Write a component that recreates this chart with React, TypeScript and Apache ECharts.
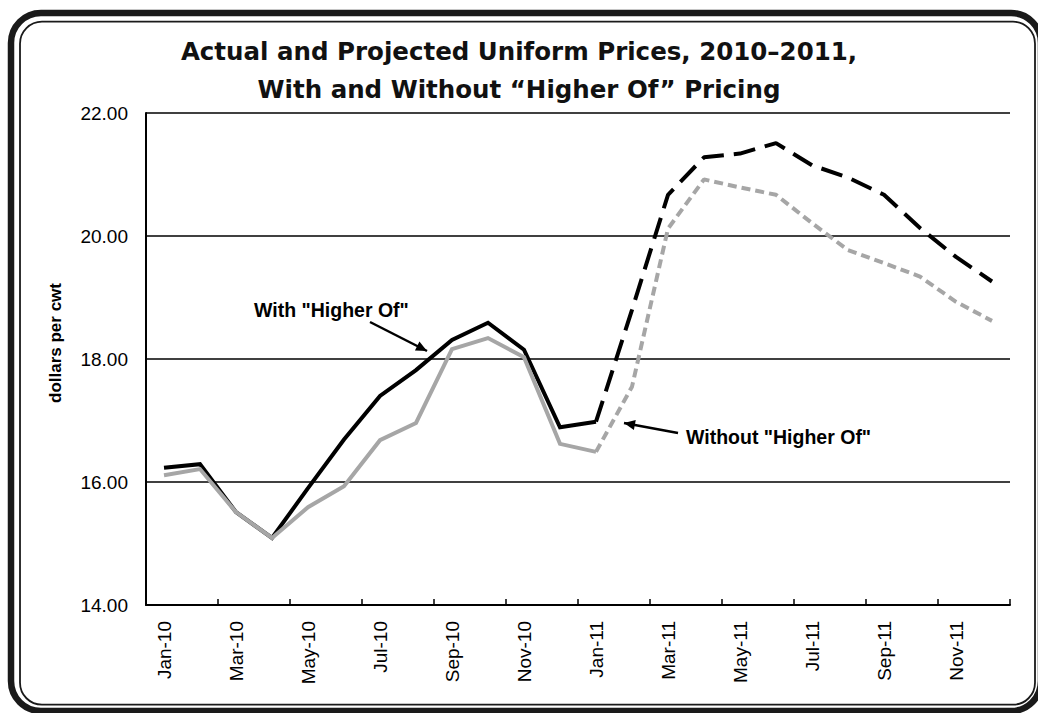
import React, { useEffect, useRef } from "react";
import * as echarts from "echarts";

const months = [
  "Jan-10", "Feb-10", "Mar-10", "Apr-10", "May-10", "Jun-10",
  "Jul-10", "Aug-10", "Sep-10", "Oct-10", "Nov-10", "Dec-10",
  "Jan-11", "Feb-11", "Mar-11", "Apr-11", "May-11", "Jun-11",
  "Jul-11", "Aug-11", "Sep-11", "Oct-11", "Nov-11", "Dec-11",
];

// dollars per cwt
const withHigherOf = [
  16.23, 16.29, 15.51, 15.09, 15.9, 16.69, 17.4, 17.82, 18.31, 18.59, 18.15, 16.89,
  16.98, 18.8, 20.67, 21.28, 21.34, 21.51, 21.15, 20.95, 20.67, 20.13, 19.66, 19.26,
];

const withoutHigherOf = [
  16.11, 16.21, 15.51, 15.09, 15.59, 15.93, 16.68, 16.96, 18.16, 18.34, 18.03, 16.62,
  16.49, 17.55, 20.12, 20.92, 20.79, 20.67, 20.21, 19.77, 19.56, 19.34, 18.93, 18.62,
];

// index of the first projected month (Jan-11); actual data runs up to it
const projectionStart = 12;

const yTicks = { min: 14, max: 22, interval: 2 };

const titleLines = [
  "Actual and Projected Uniform Prices, 2010\u20132011,",
  "With and Without \u201cHigher Of\u201d Pricing",
];

const FONT = "'Liberation Sans', Arial, Helvetica, sans-serif";

const actualPart = (arr: number[]) => arr.map((v, i) => (i <= projectionStart ? v : null));
const projectedPart = (arr: number[]) => arr.map((v, i) => (i >= projectionStart ? v : null));

function arrowHead(tail: [number, number], tip: [number, number], len = 11, half = 5) {
  const dx = tip[0] - tail[0];
  const dy = tip[1] - tail[1];
  const d = Math.sqrt(dx * dx + dy * dy);
  const ux = dx / d;
  const uy = dy / d;
  const bx = tip[0] - len * ux;
  const by = tip[1] - len * uy;
  const px = -uy * half;
  const py = ux * half;
  return [tip, [bx + px, by + py], [bx - px, by - py]];
}

function arrow(tail: [number, number], tip: [number, number]) {
  return [
    {
      type: "line",
      shape: { x1: tail[0], y1: tail[1], x2: tip[0], y2: tip[1] },
      style: { stroke: "#000", lineWidth: 2.5 },
      z: 10,
    },
    {
      type: "polygon",
      shape: { points: arrowHead(tail, tip) },
      style: { fill: "#000" },
      z: 10,
    },
  ];
}

export default function App() {
  const ref = useRef<HTMLDivElement>(null);

  useEffect(() => {
    if (!ref.current) return;
    const chart = echarts.init(ref.current, undefined, { renderer: "svg" });

    const withArrowTail: [number, number] = [370, 322];
    const withArrowTip: [number, number] = [427, 351];
    const withoutArrowTail: [number, number] = [678, 433];
    const withoutArrowTip: [number, number] = [624, 423];

    const option: any = {
      animation: false,
      backgroundColor: "#fff",
      title: {
        text: titleLines.join("\n"),
        left: "center",
        top: 27,
        textStyle: {
          fontFamily: "'DejaVu Sans', sans-serif",
          fontWeight: "bold",
          fontSize: 24.5,
          lineHeight: 38,
          color: "#111",
        },
      },
      grid: { left: 146, right: 28, top: 113, bottom: 108, containLabel: false },
      xAxis: {
        type: "category",
        data: months,
        boundaryGap: true,
        axisLine: { show: true, lineStyle: { color: "#000", width: 2 } },
        axisTick: {
          show: true,
          inside: true,
          interval: 1,
          length: 6,
          lineStyle: { color: "#000", width: 1.5 },
        },
        axisLabel: {
          interval: 1,
          rotate: 90,
          margin: 16,
          fontSize: 19,
          fontFamily: FONT,
          color: "#000",
        },
        splitLine: { show: false },
      },
      yAxis: {
        type: "value",
        min: yTicks.min,
        max: yTicks.max,
        interval: yTicks.interval,
        axisLine: { show: true, lineStyle: { color: "#000", width: 2 } },
        axisTick: { show: false },
        axisLabel: {
          margin: 18,
          fontSize: 19,
          fontFamily: FONT,
          color: "#000",
          formatter: (v: number) => v.toFixed(2),
        },
        splitLine: { show: true, lineStyle: { color: "#000", width: 1.5 } },
      },
      series: [
        {
          name: 'With "Higher Of" (actual)',
          type: "line",
          data: actualPart(withHigherOf),
          symbol: "none",
          lineStyle: { color: "#000", width: 4, cap: "butt", join: "miter" },
          z: 3,
        },
        {
          name: 'With "Higher Of" (projected)',
          type: "line",
          data: projectedPart(withHigherOf),
          symbol: "none",
          lineStyle: { color: "#000", width: 4, type: [22, 10], cap: "butt" },
          z: 3,
        },
        {
          name: 'Without "Higher Of" (actual)',
          type: "line",
          data: actualPart(withoutHigherOf),
          symbol: "none",
          lineStyle: { color: "#a6a6a6", width: 4, cap: "butt", join: "miter" },
          z: 4,
        },
        {
          name: 'Without "Higher Of" (projected)',
          type: "line",
          data: projectedPart(withoutHigherOf),
          symbol: "none",
          lineStyle: { color: "#a6a6a6", width: 4, type: [9, 5], cap: "butt" },
          z: 4,
        },
      ],
      graphic: [
        {
          type: "rect",
          shape: { x: 11, y: 13, width: 1030, height: 698, r: 30 },
          style: { fill: "none", stroke: "#1a1a1a", lineWidth: 6.5 },
          z: 20,
        },
        {
          type: "rect",
          shape: { x: 20, y: 21.7, width: 1015, height: 683, r: 22 },
          style: { fill: "none", stroke: "#1a1a1a", lineWidth: 1.8 },
          z: 20,
        },
        {
          type: "text",
          x: 55,
          y: 343,
          rotation: Math.PI / 2,
          style: {
            text: "dollars per cwt",
            fontFamily: FONT,
            fontWeight: "bold",
            fontSize: 17,
            fill: "#000",
            align: "center",
            verticalAlign: "middle",
          },
        },
        {
          type: "text",
          x: 254,
          y: 310,
          style: {
            text: 'With "Higher Of"',
            fontFamily: FONT,
            fontWeight: "bold",
            fontSize: 19.5,
            fill: "#000",
            align: "left",
            verticalAlign: "middle",
          },
        },
        {
          type: "text",
          x: 686,
          y: 437,
          style: {
            text: 'Without "Higher Of"',
            fontFamily: FONT,
            fontWeight: "bold",
            fontSize: 19.5,
            fill: "#000",
            align: "left",
            verticalAlign: "middle",
          },
        },
        ...arrow(withArrowTail, withArrowTip),
        ...arrow(withoutArrowTail, withoutArrowTip),
      ],
    };

    chart.setOption(option);
    return () => chart.dispose();
  }, []);

  return (
    <div
      ref={ref}
      style={{ position: "fixed", left: 0, top: 0, width: 1038, height: 713 }}
    />
  );
}
